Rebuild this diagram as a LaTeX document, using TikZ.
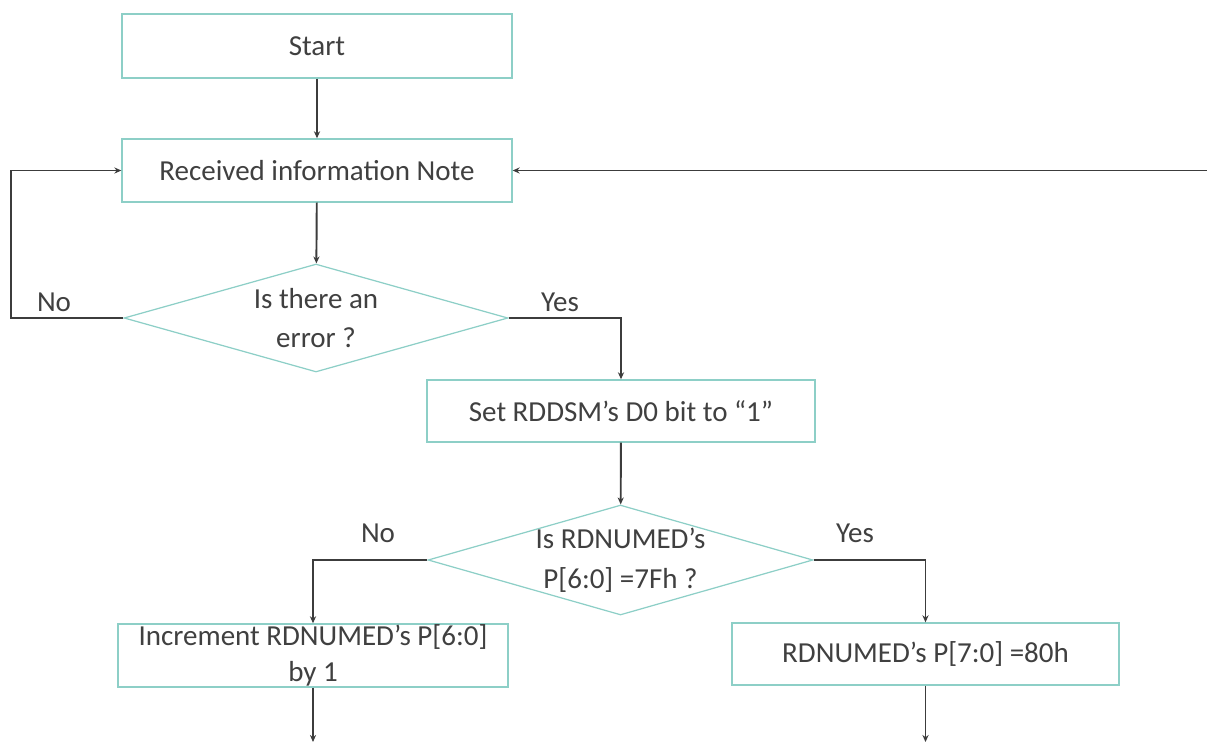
\documentclass[tikz,border=0pt]{standalone}
\usepackage{fontspec}
\setmainfont{Carlito}
\usetikzlibrary{positioning,arrows.meta,shapes.geometric}
\definecolor{tealedge}{HTML}{8DCFC7}
\definecolor{inkgrey}{HTML}{3C3C3C}
\definecolor{textgrey}{HTML}{404040}
\tikzset{
  proc/.style={rectangle, draw=tealedge, fill=white, line width=0.8pt,
               align=center, text=textgrey, inner sep=0pt,
               font=\fontsize{16.5}{20.5}\selectfont},
  dec/.style={diamond, aspect=3.5, draw=tealedge, fill=white, line width=0.7pt,
              align=center, text=textgrey, inner sep=-8pt,
              font=\fontsize{16.5}{22.5}\selectfont},
  ar/.style={-{Stealth[length=4pt,width=3.5pt]}, line width=1.1pt, draw=inkgrey},
  lbl/.style={font=\fontsize{16.5}{20}\selectfont, text=textgrey, inner sep=0pt},
}
\begin{document}
\begin{tikzpicture}[x=0.02cm, y=-0.02cm]
  \useasboundingbox (0,0) rectangle (1207,744);

  \node[proc, minimum width=7.8cm, minimum height=1.28cm] (start) at (317,46) {Start};
  \node[proc, minimum width=7.8cm, minimum height=1.26cm] (recv) at (317,170.5) {Received information Note};
  \node[dec, minimum width=7.68cm, minimum height=2.16cm] (err) at (316,318) {Is there an\\error ?};
  \node[proc, minimum width=7.76cm, minimum height=1.24cm] (setb) at (621,411) {Set RDDSM’s D0 bit to “1”};
  \node[dec, minimum width=7.7cm, minimum height=2.2cm] (chk) at (620.5,560) {Is RDNUMED’s\\P[6:0] =7Fh ?};
  \node[proc, minimum width=7.8cm, minimum height=1.26cm] (inc) at (313,655.5) {Increment RDNUMED’s P[6:0]\\by 1};
  \node[proc, minimum width=7.74cm, minimum height=1.24cm] (res) at (925.5,654) {RDNUMED’s P[7:0] =80h};

  \coordinate (feedin) at (1207,170.5);
  \coordinate (incout) at (inc.south |- 0,742);
  \coordinate (resout) at (res.south |- 0,742);

  \draw[ar] (start) -- (recv);
  \draw[ar] (recv) -- (err);
  \draw[ar] (feedin) -- (recv.east);
  \draw[ar] (err.west) -- ++(-112,0) |- (recv.west);
  \draw[ar] (err.east) -| (setb.north);
  \draw[ar] (setb) -- (chk);
  \draw[ar] (chk.west) -| (inc.north);
  \draw[ar] (chk.east) -| (res.north);
  \draw[ar] (inc) -- (incout);
  \draw[ar] (res) -- (resout);

  \node[lbl] (errno) at (54,302) {No};
  \node[lbl] (erryes) at (560,302) {Yes};
  \node[lbl] (chkno) at (378,533) {No};
  \node[lbl] (chkyes) at (855,533) {Yes};
\end{tikzpicture}
\end{document}
